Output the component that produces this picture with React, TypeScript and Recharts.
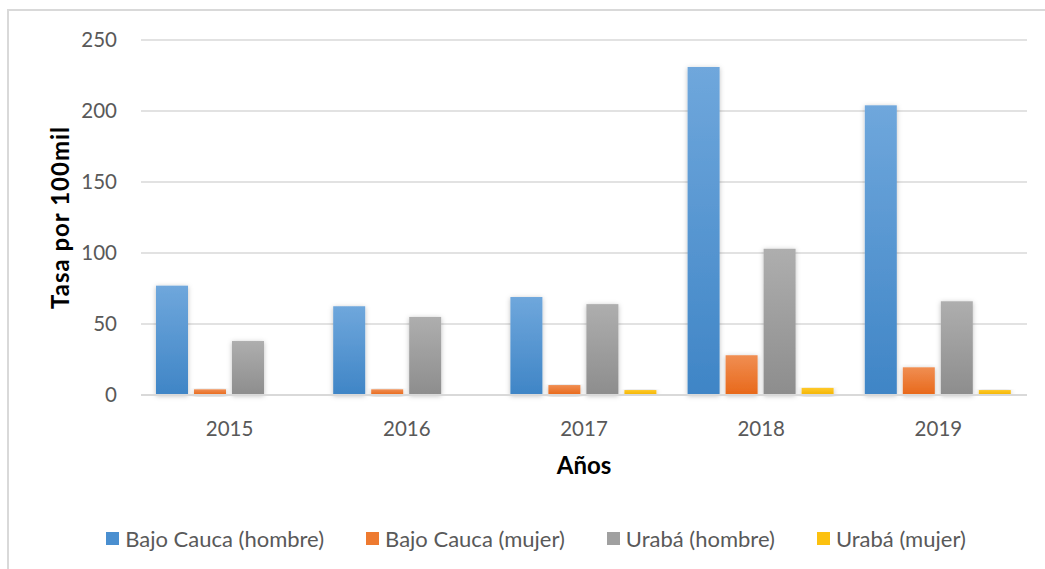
import React from 'react';
import { BarChart, Bar, XAxis, YAxis, CartesianGrid, Legend } from 'recharts';

const years = ['2015', '2016', '2017', '2018', '2019'];
const bajoCaucaHombre = [77, 62.5, 69, 231, 204];
const bajoCaucaMujer = [4, 4, 7, 28, 19.5];
const urabaHombre = [38, 55, 64, 103, 66];
const urabaMujer = [0, 0, 3.5, 5, 3.5];
const yTicks = [0, 50, 100, 150, 200, 250];

const seriesNames = ['Bajo Cauca (hombre)', 'Bajo Cauca (mujer)', 'Urabá (hombre)', 'Urabá (mujer)'];

const data = years.map((y, i) => ({
  year: y,
  [seriesNames[0]]: bajoCaucaHombre[i],
  [seriesNames[1]]: bajoCaucaMujer[i],
  [seriesNames[2]]: urabaHombre[i],
  [seriesNames[3]]: urabaMujer[i],
}));

// gradient top / bottom per series
const FILLS = [
  { id: 'gBlue', top: '#6fa7dc', bottom: '#3f85c6', swatch: '#4a8fd0' },
  { id: 'gOrange', top: '#f08e52', bottom: '#e8681a', swatch: '#ee7a30' },
  { id: 'gGrey', top: '#aeaeae', bottom: '#8d8d8d', swatch: '#a0a0a0' },
  { id: 'gYellow', top: '#ffc929', bottom: '#f2b400', swatch: '#fcc10f' },
];

const FONT = 'Lato, "Liberation Sans", sans-serif';

const ShadowBar = (props: any) => {
  const { x, y, width, height, fill } = props;
  if (!height || height <= 0) return null;
  return <rect x={x} y={y} width={width} height={height} fill={fill} filter="url(#barShadow)" />;
};

const CustomLegend = () => (
  <div style={{ display: 'flex', justifyContent: 'center', alignItems: 'center', height: 30, fontFamily: FONT, fontSize: 22, color: '#595959' }}>
    {seriesNames.map((name, i) => (
      <div key={name} style={{ display: 'flex', alignItems: 'center', marginRight: i < seriesNames.length - 1 ? 42 : 0 }}>
        <span style={{ display: 'inline-block', width: 13, height: 13, background: FILLS[i].swatch, marginRight: 6 }} />
        <span>{name}</span>
      </div>
    ))}
  </div>
);

export default function App() {
  return (
    <div style={{ position: 'absolute', left: 7, top: 9, width: 1036, height: 558, borderLeft: '2px solid #d9d9d9', borderTop: '2px solid #d9d9d9', background: '#fff' }}>
      <BarChart
        width={1036}
        height={558}
        data={data}
        margin={{ top: 29, right: 18, bottom: 16, left: 30 }}
        barCategoryGap={15}
        barGap={6}
        style={{ fontFamily: FONT }}
      >
        <defs>
          {FILLS.map(f => (
            <linearGradient key={f.id} id={f.id} x1="0" y1="0" x2="0" y2="1">
              <stop offset="0%" stopColor={f.top} />
              <stop offset="100%" stopColor={f.bottom} />
            </linearGradient>
          ))}
          <filter id="barShadow" x="-30%" y="-10%" width="160%" height="130%">
            <feDropShadow dx="0" dy="1" stdDeviation="2.5" floodColor="#000" floodOpacity="0.25" />
          </filter>
        </defs>
        <CartesianGrid vertical={false} stroke="#d9d9d9" strokeWidth={1.5} />
        <XAxis
          dataKey="year"
          tickLine={false}
          tickSize={0}
          tickMargin={26}
          axisLine={{ stroke: '#d9d9d9', strokeWidth: 2 }}
          tick={{ fill: '#595959', fontSize: 20.5 }}
          height={128}
          label={{ value: 'Años', position: 'insideTop', offset: 62, style: { fontWeight: 'bold', fontSize: 24, fill: '#000' } }}
        />
        <YAxis
          domain={[0, 250]}
          ticks={yTicks}
          width={102}
          tickLine={false}
          tickSize={0}
          tickMargin={24}
          axisLine={false}
          tick={{ fill: '#595959', fontSize: 20.5 }}
          label={{ value: 'Tasa por 100mil', angle: -90, position: 'insideLeft', offset: 21, style: { textAnchor: 'middle', fontWeight: 'bold', fontSize: 24, letterSpacing: 1, fill: '#000' } }}
        />
        <Legend verticalAlign="bottom" height={30} content={<CustomLegend />} wrapperStyle={{ left: 0, width: 1036, paddingLeft: 18, boxSizing: 'border-box' }} />
        {seriesNames.map((name, i) => (
          <Bar key={name} dataKey={name} fill={`url(#${FILLS[i].id})`} shape={<ShadowBar />} isAnimationActive={false} />
        ))}
      </BarChart>
    </div>
  );
}
